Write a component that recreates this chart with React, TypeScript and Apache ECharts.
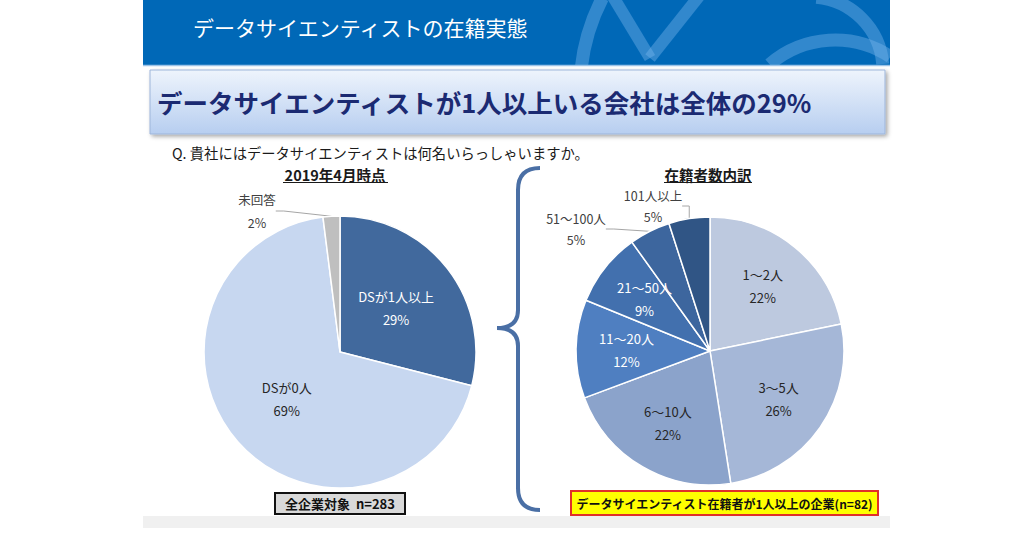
import React, { useEffect, useRef } from "react";
import * as echarts from "echarts";

const FONT = '"Noto Sans CJK JP", "Noto Sans", sans-serif';

// Left pie: 2019年4月時点 (n=283)
const leftNames = ["DSが1人以上", "DSが0人", "未回答"];
const leftValues = [29, 69, 2];
const leftColors = ["#41699D", "#C7D7F0", "#BFBFBF"];
const leftLabelColors = ["#FFFFFF", "#262626", "#404040"];

// Right pie: 在籍者数内訳 (n=82)
const rightNames = ["1～2人", "3～5人", "6～10人", "11～20人", "21～50人", "51～100人", "101人以上"];
const rightValues = [22, 26, 22, 12, 9, 5, 5];
const rightColors = ["#BDC9DF", "#A5B7D7", "#8BA3CB", "#4F7FC1", "#4270AE", "#3D669E", "#305585"];
const rightLabelColors = ["#262626", "#262626", "#262626", "#FFFFFF", "#FFFFFF", "#404040", "#404040"];
const rightOutside = [false, false, false, false, false, true, true];

const headerTitle = "データサイエンティストの在籍実態";
const mainTitle = "データサイエンティストが1人以上いる会社は全体の29%";
const question = "Q. 貴社にはデータサイエンティストは何名いらっしゃいますか。";
const leftHeading = "2019年4月時点";
const rightHeading = "在籍者数内訳";
const leftFooter = "全企業対象  n=283";
const rightFooter = "データサイエンティスト在籍者が1人以上の企業(n=82)";

export default function App() {
  const ref = useRef<HTMLDivElement>(null);
  useEffect(() => {
    if (!ref.current) return;
    const chart = echarts.init(ref.current, undefined, { renderer: "svg" });
    const deco = "rgba(120,180,235,0.42)";
    const option: any = {
      animation: false,
      backgroundColor: "#FFFFFF",
      graphic: [
        // header band
        { type: "rect", shape: { x: 143, y: 0, width: 747, height: 66 }, style: { fill: "#0068B7" }, z: 0 },
        { type: "arc", shape: { cx: 780, cy: 90, r: 200, startAngle: 3.25, endAngle: 3.62 }, style: { stroke: deco, lineWidth: 13, fill: "none" }, z: 1 },
        { type: "line", shape: { x1: 612, y1: -5, x2: 650, y2: 58 }, style: { stroke: deco, lineWidth: 12 }, z: 1 },
        { type: "line", shape: { x1: 650, y1: 58, x2: 700, y2: -5 }, style: { stroke: deco, lineWidth: 12 }, z: 1 },
        { type: "arc", shape: { cx: 835, cy: 140, r: 100, startAngle: 4.0, endAngle: 5.3 }, style: { stroke: deco, lineWidth: 13, fill: "none" }, z: 1 },
        { type: "arc", shape: { cx: 810, cy: 70, r: 73, startAngle: 4.8, endAngle: 6.2 }, style: { stroke: deco, lineWidth: 13, fill: "none" }, z: 1 },
        { type: "rect", shape: { x: 890, y: 0, width: 134, height: 80 }, style: { fill: "#FFFFFF" }, z: 2 },
        { type: "rect", shape: { x: 143, y: 66, width: 747, height: 4 }, style: { fill: "#FFFFFF" }, z: 2 },
        { type: "line", shape: { x1: 143, y1: 65.5, x2: 890, y2: 65.5 }, style: { stroke: "#9CC3E8", lineWidth: 1.5 }, z: 3 },
        {
          type: "text", x: 193, y: 27, z: 3,
          style: { text: headerTitle, fill: "#FFFFFF", fontSize: 21, fontFamily: FONT, textAlign: "left", textVerticalAlign: "middle" },
        },
        // title box
        {
          type: "rect", z: 3,
          shape: { x: 150, y: 70, width: 735, height: 64 },
          style: {
            fill: new echarts.graphic.LinearGradient(0, 0, 0, 1, [
              { offset: 0, color: "#EEF4FC" },
              { offset: 1, color: "#B7CEF0" },
            ]),
            stroke: "#9DB5DA", lineWidth: 1,
            shadowBlur: 4, shadowColor: "rgba(0,0,0,0.35)", shadowOffsetX: 2, shadowOffsetY: 2,
          },
        },
        {
          type: "text", x: 157, y: 101, z: 4,
          style: { text: mainTitle, fill: "#1B2A72", fontSize: 25.5, fontWeight: "bold", fontFamily: FONT, textAlign: "left", textVerticalAlign: "middle" },
        },
        {
          type: "text", x: 172, y: 152, z: 4,
          style: { text: question, fill: "#1A1A1A", fontSize: 14.3, fontFamily: FONT, textAlign: "left", textVerticalAlign: "middle" },
        },
        // headings
        {
          type: "text", x: 335, y: 174, z: 4,
          style: { text: leftHeading, fill: "#1A1A1A", fontSize: 14.5, fontWeight: "bold", fontFamily: FONT, textAlign: "center", textVerticalAlign: "middle" },
        },
        { type: "line", shape: { x1: 283, y1: 182.5, x2: 388, y2: 182.5 }, style: { stroke: "#1A1A1A", lineWidth: 1 }, z: 4 },
        {
          type: "text", x: 708, y: 174, z: 4,
          style: { text: rightHeading, fill: "#1A1A1A", fontSize: 14.5, fontWeight: "bold", fontFamily: FONT, textAlign: "center", textVerticalAlign: "middle" },
        },
        { type: "line", shape: { x1: 664, y1: 182.5, x2: 752, y2: 182.5 }, style: { stroke: "#1A1A1A", lineWidth: 1 }, z: 4 },
        // brace
        { type: "bezierCurve", shape: { x1: 540, y1: 168, x2: 518, y2: 190, cpx1: 518, cpy1: 168 }, style: { stroke: "#4A6FA5", lineWidth: 4, fill: "none" }, z: 4 },
        { type: "line", shape: { x1: 518, y1: 189, x2: 518, y2: 311 }, style: { stroke: "#4A6FA5", lineWidth: 4 }, z: 4 },
        { type: "bezierCurve", shape: { x1: 518, y1: 310, x2: 497, y2: 328, cpx1: 518, cpy1: 328 }, style: { stroke: "#4A6FA5", lineWidth: 4, fill: "none" }, z: 4 },
        { type: "bezierCurve", shape: { x1: 497, y1: 328, x2: 518, y2: 346, cpx1: 518, cpy1: 328 }, style: { stroke: "#4A6FA5", lineWidth: 4, fill: "none" }, z: 4 },
        { type: "line", shape: { x1: 518, y1: 345, x2: 518, y2: 489 }, style: { stroke: "#4A6FA5", lineWidth: 4 }, z: 4 },
        { type: "bezierCurve", shape: { x1: 518, y1: 488, x2: 540, y2: 510, cpx1: 518, cpy1: 510 }, style: { stroke: "#4A6FA5", lineWidth: 4, fill: "none" }, z: 4 },
        // footer boxes
        { type: "rect", shape: { x: 275, y: 493, width: 130, height: 21 }, style: { fill: "#D9D9D9", stroke: "#111111", lineWidth: 2 }, z: 4 },
        {
          type: "text", x: 340, y: 503.5, z: 5,
          style: { text: leftFooter, fill: "#111111", fontSize: 13, fontWeight: "bold", fontFamily: FONT, textAlign: "center", textVerticalAlign: "middle" },
        },
        { type: "rect", shape: { x: 571, y: 491, width: 307, height: 24 }, style: { fill: "#FFFF00", stroke: "#E0302A", lineWidth: 2 }, z: 4 },
        {
          type: "text", x: 724.5, y: 503, z: 5,
          style: { text: rightFooter, fill: "#111111", fontSize: 12, fontWeight: "bold", fontFamily: FONT, textAlign: "center", textVerticalAlign: "middle" },
        },
        // bottom strip
        { type: "rect", shape: { x: 143, y: 516, width: 747, height: 12 }, style: { fill: "#F0F0F0" }, z: 0 },
      ],
      series: [
        {
          type: "pie",
          center: [340, 352],
          radius: 136,
          startAngle: 90,
          clockwise: true,
          avoidLabelOverlap: false,
          silent: true,
          itemStyle: { borderColor: "#FFFFFF", borderWidth: 1.5 },
          label: { show: true, position: "inside", formatter: "{b}\n{c}%", fontSize: 13, lineHeight: 23, fontFamily: FONT },
          labelLine: { show: true, length: 8, length2: 8, lineStyle: { color: "#A6A6A6", width: 1 } },
          labelLayout: (p: any) =>
            p.dataIndex === 2 ? { x: 257, y: 211, align: "center", verticalAlign: "middle" } : {},
          data: leftNames.map((n, i) => ({
            name: n,
            value: leftValues[i],
            itemStyle: { color: leftColors[i] },
            label: i === 2 ? { position: "outside", color: leftLabelColors[i], fontSize: 12.5 } : { color: leftLabelColors[i] },
            labelLine: { show: i === 2 },
          })),
        },
        {
          type: "pie",
          center: [710, 351],
          radius: 134,
          startAngle: 90,
          clockwise: true,
          avoidLabelOverlap: false,
          silent: true,
          itemStyle: { borderColor: "#FFFFFF", borderWidth: 1.5 },
          label: { show: true, position: "outside", formatter: "{b}\n{c}%", fontSize: 12.5, lineHeight: 21, fontFamily: FONT, color: "#404040" },
          labelLine: { show: true, length: 8, length2: 8, lineStyle: { color: "#A6A6A6", width: 1 } },
          labelLayout: (p: any) => {
            if (p.dataIndex === 6) return { x: 653, y: 206, align: "center", verticalAlign: "middle" };
            if (p.dataIndex === 5) return { x: 576, y: 229, align: "center", verticalAlign: "middle" };
            return {};
          },
          data: rightNames.map((n, i) => ({
            name: n,
            value: rightValues[i],
            itemStyle: { color: rightColors[i] },
            label: { show: rightOutside[i] },
            labelLine: { show: rightOutside[i] },
          })),
        },
        {
          // label carrier for the inside labels of the right pie
          type: "pie",
          center: [710, 351],
          radius: 161,
          startAngle: 90,
          clockwise: true,
          avoidLabelOverlap: false,
          silent: true,
          z: 3,
          itemStyle: { color: "rgba(0,0,0,0)", borderWidth: 0 },
          label: { show: true, position: "inside", formatter: "{b}\n{c}%", fontSize: 13, lineHeight: 23, fontFamily: FONT },
          labelLine: { show: false },
          data: rightNames.map((n, i) => ({
            name: n,
            value: rightValues[i],
            label: { show: !rightOutside[i], color: rightLabelColors[i] },
          })),
        },
      ],
    };
    chart.setOption(option);
    return () => chart.dispose();
  }, []);
  return <div ref={ref} style={{ position: "fixed", left: 0, top: 0, width: 1024, height: 538 }} />;
}
